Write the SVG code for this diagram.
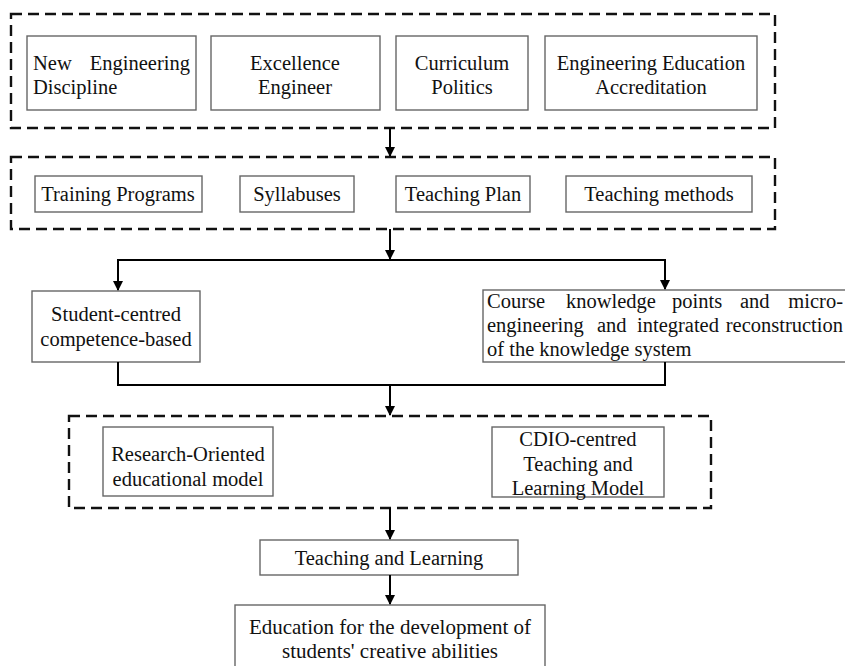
<svg xmlns="http://www.w3.org/2000/svg" width="845" height="666" viewBox="0 0 845 666">
<defs>
<marker id="ah" markerWidth="10" markerHeight="10" refX="9" refY="5" orient="auto" markerUnits="userSpaceOnUse">
<path d="M0,0 L10,5 L0,10 Z" fill="#000"/>
</marker>
<style>
.dash{fill:none;stroke:#111;stroke-width:2.4;stroke-dasharray:11 6}
.box{fill:#fff;stroke:#666;stroke-width:1.4}
.t{font-family:"Liberation Serif","Times New Roman",serif;font-size:20.5px;fill:#111}
.c{text-anchor:middle}
.e{text-anchor:end}
.ln{fill:none;stroke:#000;stroke-width:2}
</style>
</defs>
<rect width="845" height="666" fill="#fff"/>
<g id="group1">
<rect class="dash" x="11" y="14" width="764" height="114"/>
</g>
<g id="n1"><rect class="box" x="27" y="36" width="169" height="74"/>
<text class="t" x="33" y="70">New</text>
<text class="t e" x="190" y="70">Engineering</text>
<text class="t" x="33" y="94">Discipline</text></g>
<g id="n2"><rect class="box" x="211" y="36" width="169" height="74"/>
<text class="t c" x="295" y="70">Excellence</text>
<text class="t c" x="295" y="94">Engineer</text></g>
<g id="n3"><rect class="box" x="396" y="36" width="132" height="74"/>
<text class="t c" x="462" y="70">Curriculum</text>
<text class="t c" x="462" y="94">Politics</text></g>
<g id="n4"><rect class="box" x="545" y="36" width="212" height="74"/>
<text class="t c" x="651" y="70">Engineering Education</text>
<text class="t c" x="651" y="94">Accreditation</text></g>

<g id="group2"><rect class="dash" x="11" y="157" width="764" height="72"/></g>
<g id="n5"><rect class="box" x="35" y="176" width="167" height="36"/>
<text class="t c" x="118" y="201">Training Programs</text></g>
<g id="n6"><rect class="box" x="240" y="176" width="114" height="36"/>
<text class="t c" x="297" y="201">Syllabuses</text></g>
<g id="n7"><rect class="box" x="396" y="176" width="134" height="36"/>
<text class="t c" x="463" y="201">Teaching Plan</text></g>
<g id="n8"><rect class="box" x="566" y="176" width="186" height="36"/>
<text class="t c" x="659" y="201">Teaching methods</text></g>

<g id="n9"><rect class="box" x="32" y="291" width="168" height="71"/>
<text class="t c" x="116" y="321">Student-centred</text>
<text class="t c" x="116" y="346">competence-based</text></g>
<g id="n10"><rect class="box" x="483" y="290" width="370" height="72"/>
<text class="t" x="487" y="308">Course</text>
<text class="t" x="566" y="308">knowledge</text>
<text class="t" x="672" y="308">points</text>
<text class="t" x="740" y="308">and</text>
<text class="t e" x="843" y="308">micro-</text>
<text class="t" x="487" y="332">engineering</text>
<text class="t" x="597" y="332">and</text>
<text class="t" x="637" y="332">integrated</text>
<text class="t e" x="843" y="332">reconstruction</text>
<text class="t" x="487" y="356">of the knowledge system</text></g>

<g id="group3"><rect class="dash" x="69" y="416" width="642" height="92"/></g>
<g id="n11"><rect class="box" x="103" y="427" width="170" height="69"/>
<text class="t c" x="188" y="461">Research-Oriented</text>
<text class="t c" x="188" y="486">educational model</text></g>
<g id="n12"><rect class="box" x="492" y="427" width="172" height="70"/>
<text class="t c" x="578" y="446">CDIO-centred</text>
<text class="t c" x="578" y="471">Teaching and</text>
<text class="t c" x="578" y="495">Learning Model</text></g>

<g id="n13"><rect class="box" x="260" y="540" width="258" height="35"/>
<text class="t c" x="389" y="565">Teaching and Learning</text></g>
<g id="n14"><rect class="box" x="235" y="605" width="310" height="70"/>
<text class="t c" x="390" y="634" style="font-size:21px">Education for the development of</text>
<text class="t c" x="390" y="658" style="font-size:21px">students' creative abilities</text></g>

<g id="connectors">
<line class="ln" x1="390" y1="128" x2="390" y2="156" marker-end="url(#ah)"/>
<line class="ln" x1="390" y1="229" x2="390" y2="259" marker-end="url(#ah)"/>
<polyline class="ln" points="118,260 665,260"/>
<line class="ln" x1="118" y1="259" x2="118" y2="290" marker-end="url(#ah)"/>
<line class="ln" x1="665" y1="259" x2="665" y2="289" marker-end="url(#ah)"/>
<polyline class="ln" points="118,362 118,385 665,385 665,362"/>
<line class="ln" x1="390" y1="385" x2="390" y2="415" marker-end="url(#ah)"/>
<line class="ln" x1="390" y1="508" x2="390" y2="539" marker-end="url(#ah)"/>
<line class="ln" x1="390" y1="575" x2="390" y2="604" marker-end="url(#ah)"/>
</g>
</svg>
